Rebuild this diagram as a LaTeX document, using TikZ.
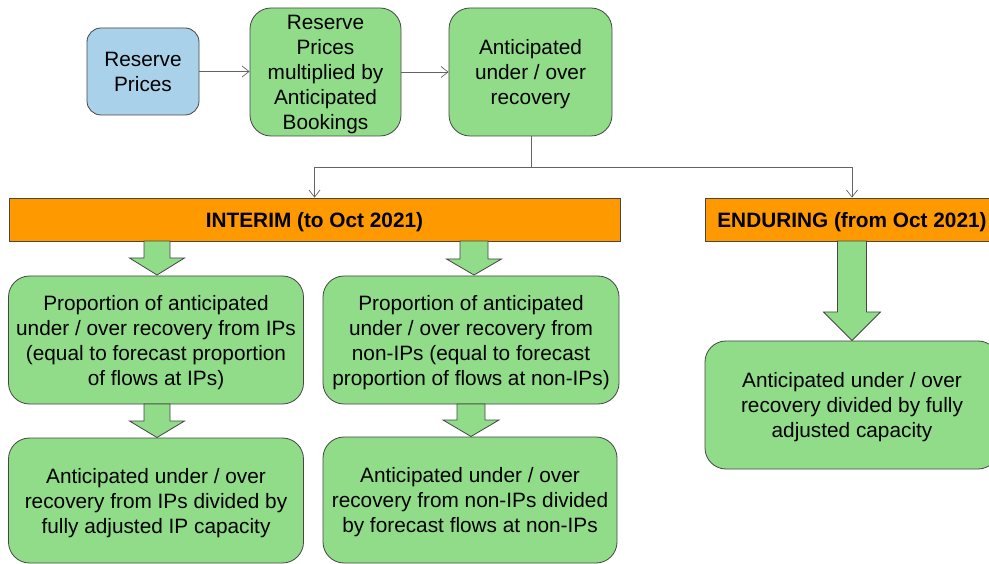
\documentclass[tikz,border=0pt]{standalone}
\usepackage{fontspec}
\setmainfont{Liberation Sans}
\usetikzlibrary{arrows.meta}
\definecolor{boxgreen}{RGB}{144,220,136}
\definecolor{boxblue}{RGB}{169,210,234}
\definecolor{barorange}{RGB}{255,153,0}
\definecolor{edgegray}{RGB}{70,70,70}
\definecolor{linegray}{RGB}{100,100,100}
\newcommand\blockarr[6]{%
  \draw[blockarrow] ({#1-#5},#2) -- ({#1+#5},#2) -- ({#1+#5},#3) -- ({#1+#6},#3)
    -- (#1,#4) -- ({#1-#6},#3) -- ({#1-#5},#3) -- cycle;}
\begin{document}
\begin{tikzpicture}[x=1pt,y=-1pt,
  base/.style={draw=edgegray, line width=0.8pt, align=center, inner sep=0pt,
    text depth=0pt, font=\fontsize{20.8}{25}\selectfont, text=black},
  greenbox/.style={base, fill=boxgreen, rounded corners=21pt},
  bluebox/.style={base, fill=boxblue, rounded corners=14pt},
  orangebar/.style={base, fill=barorange, font=\fontsize{20.8}{25}\selectfont\bfseries},
  conn/.style={draw=linegray, line width=0.7pt, -{Straight Barb[length=7pt,width=11pt]}},
  plainline/.style={draw=linegray, line width=0.7pt},
  blockarrow/.style={draw=edgegray, line width=0.8pt, fill=boxgreen}
]
\clip (0,0) rectangle (989,564);
\fill[white] (0,0) rectangle (989,564);

% top row
\node[bluebox, minimum width=112pt, minimum height=87pt] (rp) at (143,71.5) {Reserve\\Prices};
\node[greenbox, minimum width=151pt, minimum height=128pt] (rpab) at (325.5,72)
  {Reserve\\Prices\\multiplied by\\Anticipated\\Bookings};
\node[greenbox, minimum width=163pt, minimum height=128pt] (auor) at (530.5,72)
  {Anticipated\\under / over\\recovery};

% bars
\node[orangebar, minimum width=611pt, minimum height=43pt] (int) at (314.5,219.5) {INTERIM (to Oct 2021)};
\node[orangebar, minimum width=294pt, minimum height=43pt] (end) at (852,219.5) {ENDURING (from Oct 2021)};

% lower boxes
\node[greenbox, minimum width=295pt, minimum height=128pt] (p1) at (156,340)
  {Proportion of anticipated\\under / over recovery from IPs\\(equal to forecast proportion\\of flows at IPs)};
\node[greenbox, minimum width=296pt, minimum height=128pt] (p2) at (471,340)
  {Proportion of anticipated\\under / over recovery from\\non-IPs (equal to forecast\\proportion of flows at non-IPs)};
\node[greenbox, minimum width=295pt, minimum height=125pt] (q1) at (156,500.5)
  {Anticipated under / over\\recovery from IPs divided by\\fully adjusted IP capacity};
\node[greenbox, minimum width=294pt, minimum height=126pt] (q2) at (470,500)
  {Anticipated under / over\\recovery from non-IPs divided\\by forecast flows at non-IPs};
\node[greenbox, minimum width=294pt, minimum height=128pt] (r1) at (852,405)
  {Anticipated under / over\\recovery divided by fully\\adjusted capacity};

% connectors
\draw[conn] (rp.east) -- (rpab.west |- rp.east);
\draw[conn] (rpab.east) -- (auor.west);
\coordinate (split) at (531,167);
\draw[plainline] (auor.south -| split) -- (split);
\draw[conn] (split) -| (int.north);
\draw[conn] (split) -| (end.north);

% block arrows
\blockarr{157}{241}{258}{275}{13}{27.5}
\blockarr{474}{241}{259}{275}{14}{27.5}
\blockarr{157}{404}{421}{437.5}{13}{27.5}
\blockarr{471}{404}{420}{436.5}{14}{28}
\blockarr{852}{241}{312}{340.5}{14.5}{28.5}
\end{tikzpicture}
\end{document}
